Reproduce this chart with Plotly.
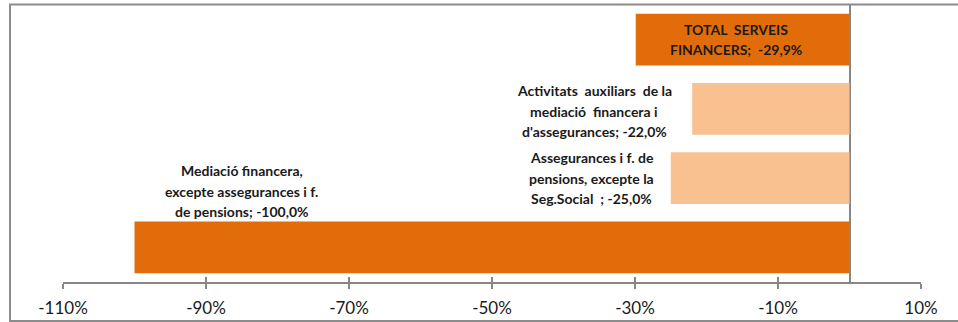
import plotly.graph_objects as go

# Variació per activitat (serveis financers)
categories = [
    "TOTAL SERVEIS FINANCERS",
    "Activitats auxiliars de la mediació financera i d'assegurances",
    "Assegurances i f. de pensions, excepte la Seg.Social",
    "Mediació financera, excepte assegurances i f. de pensions",
]
values = [-29.9, -22.0, -25.0, -100.0]
label_lines = [
    ["TOTAL  SERVEIS", "FINANCERS;  "],
    ["Activitats  auxiliars  de la", "mediació  financera i", "d'assegurances; "],
    ["Assegurances i f. de", "pensions, excepte la", "Seg.Social  ; "],
    ["Mediació financera,", "excepte assegurances i f.", "de pensions; "],
]
tick_vals = [-110, -90, -70, -50, -30, -10, 10]
tick_text = ["-110%", "-90%", "-70%", "-50%", "-30%", "-10%", "10%"]

DARK = "#E36C0A"
LIGHT = "#F9C190"
bar_colors = [DARK, LIGHT, LIGHT, DARK]
GREY = "#878787"

W, H = 958, 322
ML, MR, MT, MB = 63, 37, 5, 40
PW, PH = W - ML - MR, H - MT - MB

# label placement: (x shift from bar end in px, y shift of block centre in px)
label_pos = [(100, 0), (-98, -2.5), (-79, 0), (107, 56)]
LINE_STEP = 20.5


def pct(v):
    return f"{v:.1f}".replace(".", ",") + "%"


fig = go.Figure()
fig.add_trace(go.Bar(
    y=categories, x=values, orientation="h",
    marker=dict(color=bar_colors, line=dict(width=0)),
    hoverinfo="skip", showlegend=False,
))
# same bars on the overlay axis (transparent) so it carries its inside ticks
fig.add_trace(go.Bar(
    y=categories, x=values, orientation="h", xaxis="x2",
    marker=dict(color="rgba(0,0,0,0)", line=dict(width=0)),
    hoverinfo="skip", showlegend=False,
))

annotations = []
for cat, v, lines, (dx, dy) in zip(categories, values, label_lines, label_pos):
    lines = lines[:-1] + [lines[-1] + pct(v)]
    n = len(lines)
    for i, line in enumerate(lines):
        annotations.append(dict(
            x=v, y=cat, xref="x", yref="y", text=f"<b>{line}</b>",
            showarrow=False, xanchor="center", yanchor="middle",
            xshift=dx, yshift=dy - (i - (n - 1) / 2) * LINE_STEP,
            font=dict(family="Lato, Carlito, sans-serif", size=14, color="#1a1a1a"),
        ))


def px_to_paper_x(px):
    return (px - ML) / PW


def px_to_paper_y(py):
    return (H - MB - py) / PH


frame = [
    dict(x0=px_to_paper_x(10), x1=px_to_paper_x(10), y0=px_to_paper_y(321.5), y1=px_to_paper_y(4)),
    dict(x0=px_to_paper_x(9), x1=px_to_paper_x(W + 5), y0=px_to_paper_y(4.5), y1=px_to_paper_y(4.5)),
    dict(x0=px_to_paper_x(9), x1=px_to_paper_x(W + 5), y0=px_to_paper_y(321), y1=px_to_paper_y(321)),
]
shapes = [dict(type="line", xref="paper", yref="paper", line=dict(color="#8C8C8C", width=2), **f)
          for f in frame]

axis_common = dict(
    range=[-110, 10], tickvals=tick_vals, showgrid=False,
    tickcolor=GREY, tickwidth=2, ticklen=5,
)
fig.update_layout(
    width=W, height=H,
    margin=dict(l=ML, r=MR, t=MT, b=MB, pad=0),
    paper_bgcolor="white", plot_bgcolor="white",
    bargap=0.25, barmode="overlay",
    xaxis=dict(
        **axis_common, ticktext=tick_text, ticks="outside",
        showline=True, linecolor=GREY, linewidth=2,
        zeroline=True, zerolinecolor=GREY, zerolinewidth=2,
        tickfont=dict(family="Lato, Carlito, sans-serif", size=17, color="#1a1a1a"),
        ticklabelstandoff=5,
    ),
    xaxis2=dict(
        **axis_common, overlaying="x", anchor="y", side="bottom",
        ticks="inside", showticklabels=False, showline=False, zeroline=False,
    ),
    yaxis=dict(
        range=[3.5, -0.5], autorange=False, showticklabels=False, ticks="",
        showgrid=False, zeroline=False, showline=False,
    ),
    annotations=annotations,
    shapes=shapes,
)

fig.write_html("out.html")
